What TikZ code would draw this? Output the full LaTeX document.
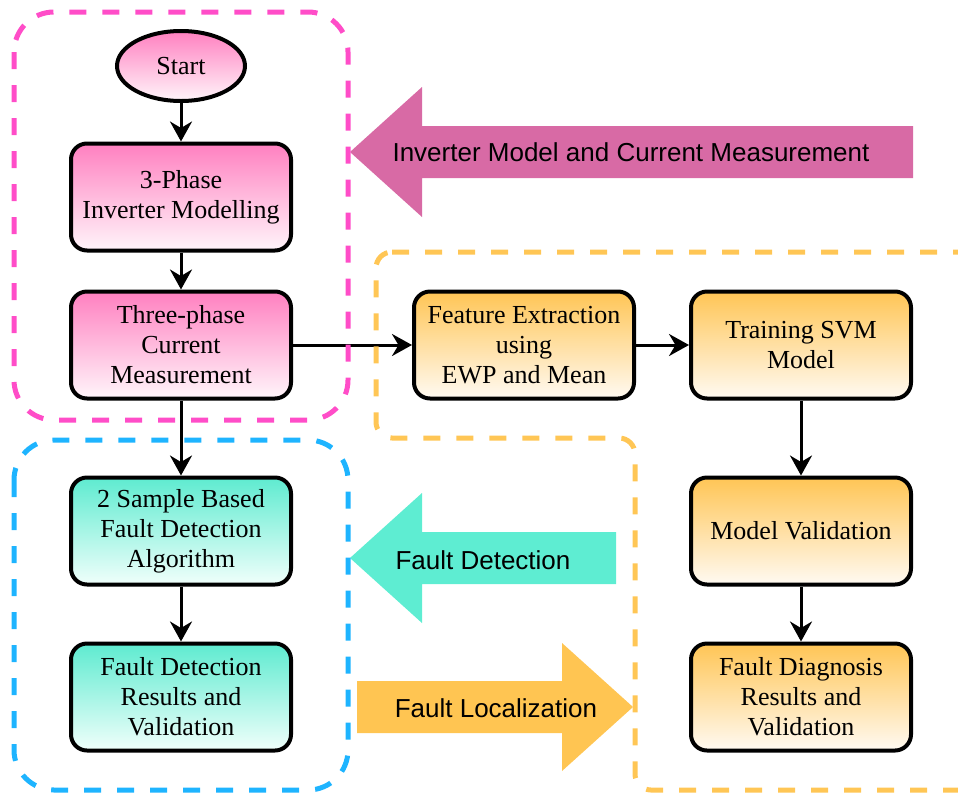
\documentclass[tikz,border=0pt]{standalone}
\usepackage{fontspec}
\setmainfont{Liberation Serif}
\newfontfamily\arrowfont{Liberation Sans}
\usetikzlibrary{shapes.geometric,arrows.meta}
\definecolor{pink-top}{RGB}{255,128,192}
\definecolor{pink-bot}{RGB}{255,245,250}
\definecolor{teal-top}{RGB}{94,235,208}
\definecolor{teal-bot}{RGB}{240,255,251}
\definecolor{amber-top}{RGB}{255,197,85}
\definecolor{amber-bot}{RGB}{255,250,242}
\definecolor{pink-dash}{RGB}{255,77,200}
\definecolor{blue-dash}{RGB}{30,180,255}
\definecolor{amber-dash}{RGB}{255,198,85}
\definecolor{pink-arrow}{RGB}{216,106,165}
\definecolor{teal-arrow}{RGB}{94,237,210}
\definecolor{amber-arrow}{RGB}{255,197,82}
\tikzstyle{process}=[draw, line width=4pt, rounded corners=16pt, minimum width=220pt, minimum height=107pt, align=center, inner sep=0pt, font=\fontsize{26}{30}\selectfont]
\tikzstyle{pinkbox}=[process, top color=pink-top, bottom color=pink-bot]
\tikzstyle{tealbox}=[process, top color=teal-top, bottom color=teal-bot]
\tikzstyle{amberbox}=[process, top color=amber-top, bottom color=amber-bot]
\tikzstyle{connector}=[line width=3pt, -{Stealth[length=20pt,width=22pt]}]
\tikzstyle{region}=[line width=5pt, dash pattern=on 17pt off 16pt, rounded corners=40pt]
\tikzstyle{arrowtext}=[font=\arrowfont\fontsize{26}{30}\selectfont]
\newcommand{\bigleftarrow}[4]{% Syntax: {tip x}{tip y}{tail x}{colour}
	\fill[#4] (#1,#2) -- (#1+72,#2-65) -- (#1+72,#2-26) -- (#3,#2-26) -- (#3,#2+26) -- (#1+72,#2+26) -- (#1+72,#2+65) -- cycle;
}
\newcommand{\bigrightarrow}[4]{% Syntax: {tip x}{tip y}{tail x}{colour}
	\fill[#4] (#1,#2) -- (#1-71,#2-64) -- (#1-71,#2-26) -- (#3,#2-26) -- (#3,#2+26) -- (#1-71,#2+26) -- (#1-71,#2+64) -- cycle;
}
\begin{document}
\begin{tikzpicture}[x=1pt, y=-1pt]
	\useasboundingbox (0,0) rectangle (958,796);
	% big arrows
	\bigleftarrow{350}{152}{913}{pink-arrow}
	\bigleftarrow{350}{558}{616}{teal-arrow}
	\bigrightarrow{633}{707}{357}{amber-arrow}
	\node[arrowtext] (invlabel) at (631,152) {Inverter Model and Current Measurement};
	\node[arrowtext] (detlabel) at (483,560) {Fault Detection};
	\node[arrowtext] (loclabel) at (496,708) {Fault Localization};
	% left column
	\node[ellipse, draw, line width=4pt, minimum width=128pt, minimum height=70pt, top color=pink-top, bottom color=pink-bot, font=\fontsize{26}{30}\selectfont] (start) at (181,66) {Start};
	\node[pinkbox] (model) at (181,197) {3-Phase\\Inverter Modelling};
	\node[pinkbox] (meas) at (181,345) {Three-phase\\Current\\Measurement};
	\node[tealbox] (detect) at (181,531) {2 Sample Based\\Fault Detection\\Algorithm};
	\node[tealbox] (detres) at (181,697) {Fault Detection\\Results and\\Validation};
	% right part
	\node[amberbox] (feat) at (524,345) {Feature Extraction\\using\\EWP and Mean};
	\node[amberbox] (svm) at (801,345) {Training SVM\\Model};
	\node[amberbox] (valid) at (801,531) {Model Validation};
	\node[amberbox] (diag) at (801,697) {Fault Diagnosis\\Results and\\Validation};
	% connectors
	\draw[connector] (start) -- (model);
	\draw[connector] (model) -- (meas);
	\draw[connector] (meas) -- (detect);
	\draw[connector] (detect) -- (detres);
	\draw[connector] (meas) -- (feat);
	\draw[connector] (feat) -- (svm);
	\draw[connector] (svm) -- (valid);
	\draw[connector] (valid) -- (diag);
	% dashed regions
	\draw[region, pink-dash] (14,12) rectangle (348,420);
	\draw[region, blue-dash] (14,440) rectangle (348,790);
	\draw[region, amber-dash, rounded corners=16pt] (376,252) -- (975,252) -- (975,790) -- (635,790) -- (635,438) -- (376,438) -- cycle;
\end{tikzpicture}
\end{document}
